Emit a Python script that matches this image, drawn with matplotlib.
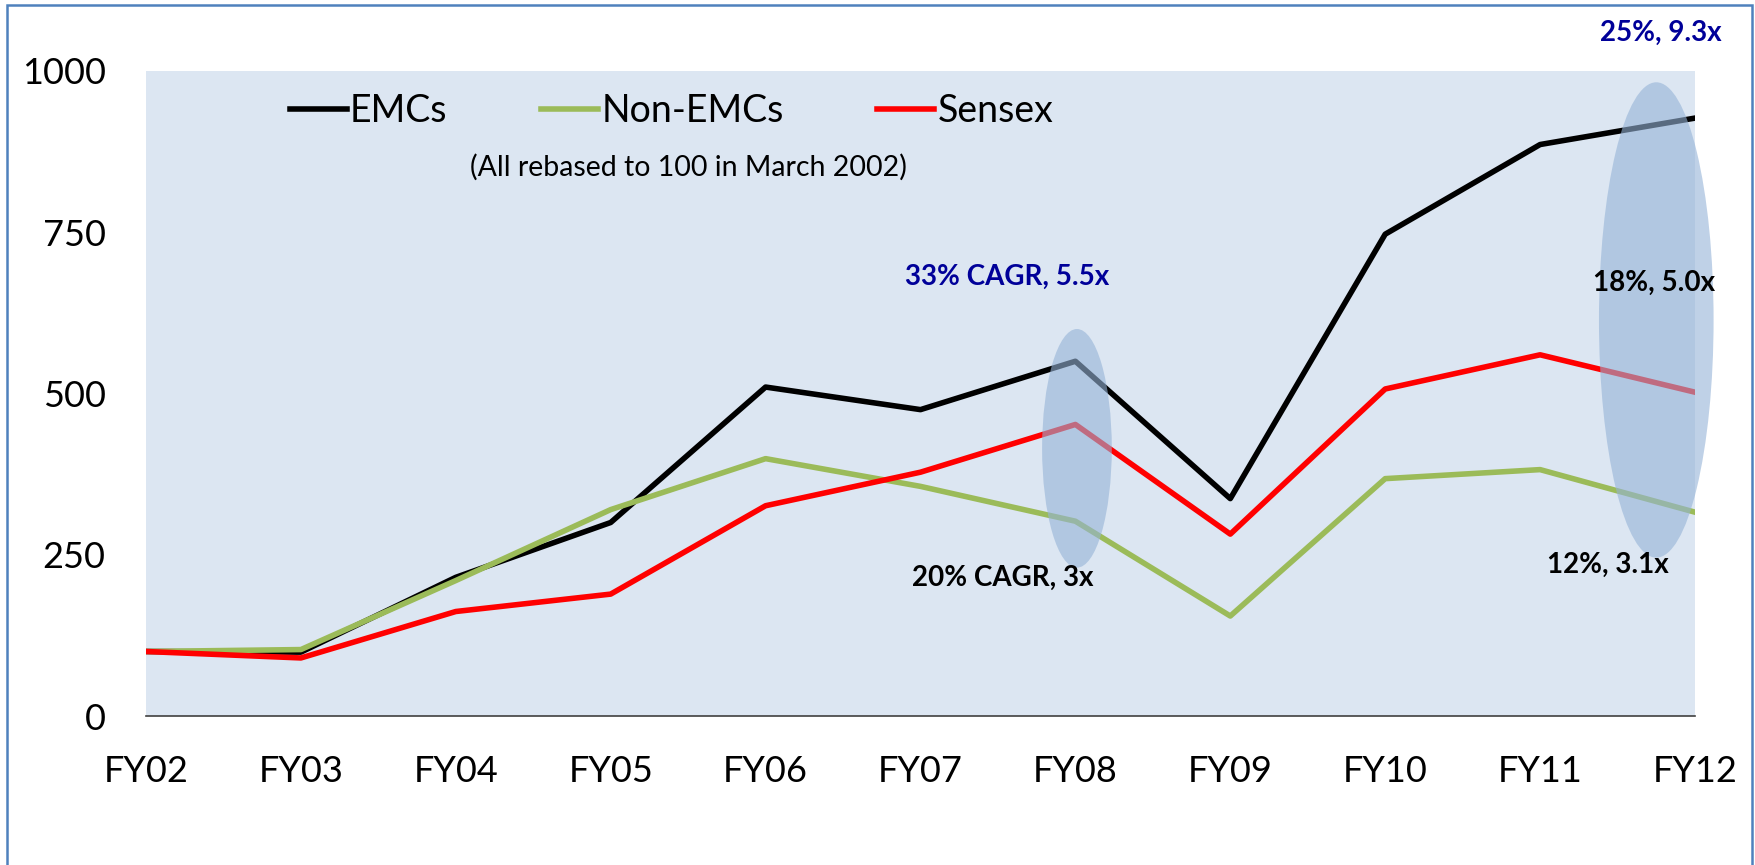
import matplotlib
matplotlib.use("Agg")
import matplotlib.pyplot as plt
from matplotlib.patches import Ellipse, Rectangle

plt.rcParams['font.family'] = ['Lato', 'DejaVu Sans']

years = ["FY02", "FY03", "FY04", "FY05", "FY06", "FY07", "FY08", "FY09", "FY10", "FY11", "FY12"]
emcs = [100, 99, 215, 300, 510, 475, 550, 337, 747, 886, 927]
non_emcs = [100, 103, 210, 320, 399, 356, 302, 155, 368, 382, 316]
sensex = [100, 90, 162, 189, 326, 378, 452, 282, 507, 560, 502]

W, H = 1756, 865
fig = plt.figure(figsize=(W / 100, H / 100), dpi=100)
ax = fig.add_axes([146 / W, 1 - 716 / H, 1549 / W, 645 / H])
ax.set_facecolor("#DCE6F2")

x = list(range(len(years)))
ax.plot(x, emcs, color="black", lw=4, label="EMCs")
ax.plot(x, non_emcs, color="#9BBB59", lw=4, label="Non-EMCs")
ax.plot(x, sensex, color="#FF0000", lw=4, label="Sensex")

# highlight ellipses over FY08 and FY12
ax.add_patch(Ellipse((6.01, 415), 0.45, 370, facecolor="#95B3D7", alpha=0.6,
                     edgecolor="none", zorder=5, clip_on=False))
ax.add_patch(Ellipse((9.75, 614), 0.74, 737, facecolor="#95B3D7", alpha=0.6,
                     edgecolor="none", zorder=5, clip_on=False))

ax.set_xlim(0, 10)
ax.set_ylim(0, 1000)
ax.set_xticks(x)
ax.set_xticklabels(years)
ax.set_yticks([0, 250, 500, 750, 1000])
ax.tick_params(axis="both", length=0, labelsize=26)
ax.tick_params(axis="x", pad=28)
ax.tick_params(axis="y", pad=29)
for s in ["top", "right", "left"]:
    ax.spines[s].set_visible(False)
ax.spines["bottom"].set_color("#404040")
ax.spines["bottom"].set_linewidth(1.2)

ax.legend(loc="center left", bbox_to_anchor=(290 / W, 1 - 111 / H), bbox_transform=fig.transFigure,
          ncol=3, frameon=False, fontsize=27, handlelength=1.52, handletextpad=0.08,
          columnspacing=2.5, borderpad=0, borderaxespad=0)

fig.text(688 / W, 1 - 167 / H, "(All rebased to 100 in March 2002)", fontsize=20.5,
         ha="center", va="center")

bold = dict(fontsize=20, fontweight="bold", ha="center", va="center", zorder=6)
fig.text(1007 / W, 1 - 277 / H, "33% CAGR, 5.5x", color="#000099", **bold)
fig.text(1003 / W, 1 - 578 / H, "20% CAGR, 3x", color="black", **bold)
fig.text(1661 / W, 1 - 33 / H, "25%, 9.3x", color="#000099", **bold)
fig.text(1654 / W, 1 - 283 / H, "18%, 5.0x", color="black", **bold)
fig.text(1608 / W, 1 - 565 / H, "12%, 3.1x", color="black", **bold)

# outer chart border (bottom edge runs off the image)
fig.patches.append(Rectangle((7 / W, -0.05), 1745 / W, 1.05 - 5 / H, transform=fig.transFigure,
                             fill=False, edgecolor="#4F81BD", lw=1.8))

fig.savefig("out.png", dpi=100)
